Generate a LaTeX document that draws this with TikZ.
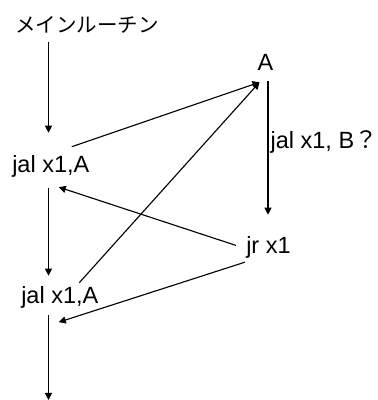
\documentclass[tikz,border=0pt]{standalone}
\usepackage{fontspec}
\setmainfont{Liberation Sans}
\newfontfamily\jpfont{Noto Sans CJK JP}
\usetikzlibrary{arrows.meta,calc}

\begin{document}
\begin{tikzpicture}[
  x=0.025cm, y=-0.025cm,
  code/.style={font=\fontsize{16.7}{20}\selectfont, inner sep=0pt, anchor=base west},
  title/.style={font=\jpfont\fontsize{14.6}{18}\selectfont, inner sep=0pt},
  flow/.style={-{Triangle[length=5pt,width=5pt]}, line width=0.8pt},
]
% Coordinate system: 1 unit = 1 pixel of the 377 x 400 frame, y grows downwards.
\useasboundingbox (0,0) rectangle (377,400);

% ─── Main routine column ──────────────────────────────────────────────────
\node[title] (main) at (87,25) {メインルーチン};
\node[code] (call1) at (12,172) {jal x1,A};
\node[code] (call2) at (21,303) {jal x1,A};
\coordinate (lane) at (48.5,0);
\coordinate (exit) at (48.5,400);

% ─── Subroutine column ────────────────────────────────────────────────────
\node[code, anchor=base] (sub) at (265.5,71) {A};
\node[code] (ret) at (246,253) {jr x1};
\coordinate (sublane) at (268,0);

% Straight flow down the main routine
\draw[flow, shorten <=0.2cm, shorten >=0.55cm] (main.south -| lane) -- (call1.north -| lane);
\draw[flow, shorten <=0.275cm, shorten >=0.25cm] (call1.south -| lane) -- (call2.north -| lane);
\draw[flow, shorten <=0.175cm] (call2.south -| lane) -- (exit);

% Calls into A
\draw[flow] ($(call1.north)+(21,-8)$) -- ($(sub.south)+(-6,11)$);
\draw[flow] ($(call2.north)+(19.5,-3)$) -- ($(sub.south)+(-6,11)$);

% Body of A
\draw[flow, shorten <=0.25cm, shorten >=0.525cm] (sub.south -| sublane)
  -- node[code, pos=0.47, xshift=1.5pt] {jal x1, B{\jpfont ？}} (ret.north -| sublane);

% Returns
\draw[flow] ($(ret.west)+(-10,-1.5)$) -- ($(call1.south)+(8,10)$);
\draw[flow] ($(ret.south west)+(-1,4)$) -- ($(call2.south)+(-1,14)$);

\end{tikzpicture}
\end{document}
